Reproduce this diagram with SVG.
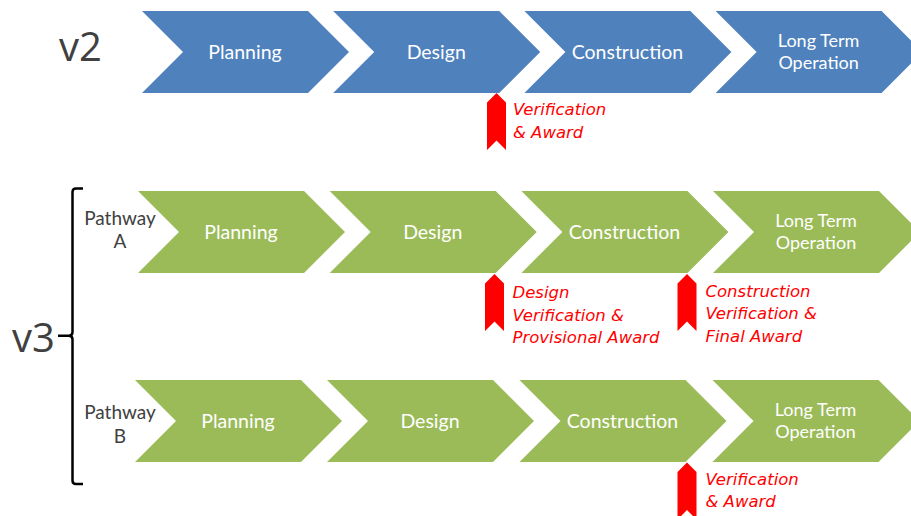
<svg xmlns="http://www.w3.org/2000/svg" width="911" height="516" viewBox="0 0 911 516">
<style>
.blue{fill:#4F81BD}
.green{fill:#9BBB59}
.lbl{font-family:Lato,"Open Sans",sans-serif;font-size:19.5px;fill:#FFFFFF;text-anchor:middle}
.lbl2{font-family:Lato,"Open Sans",sans-serif;font-size:18px;fill:#FFFFFF;text-anchor:middle}
.ver{font-family:"Open Sans","Noto Sans",sans-serif;font-size:40px;fill:#404040}
.pw{font-family:Lato,"Open Sans",sans-serif;font-size:19px;fill:#404040;text-anchor:middle}
.flag{fill:#FF0000}
.red{font-family:"DejaVu Sans","Verdana",sans-serif;font-style:italic;font-size:16.5px;fill:#FF0000}
.brace{fill:none;stroke:#000000;stroke-width:2.5}
</style>
<defs>
<polygon id="chev" points="0,0 166,0 207,41 166,82 0,82 41,41"/>
<polygon id="flagShape" points="0,9.5 9.5,0 19,9.5 19,57 9.5,47.5 0,57"/>
</defs>

<text class="ver" x="59" y="61">v2</text>
<text class="ver" x="12" y="352">v3</text>

<g id="v2-planning"><use href="#chev" class="blue" x="142" y="11"/><text class="lbl" x="245" y="58.5">Planning</text></g>
<g id="v2-design"><use href="#chev" class="blue" x="333.2" y="11"/><text class="lbl" x="436.2" y="58.5">Design</text></g>
<g id="v2-construction"><use href="#chev" class="blue" x="524.4" y="11"/><text class="lbl" x="627.4" y="58.5">Construction</text></g>
<g id="v2-operation"><use href="#chev" class="blue" x="715.6" y="11"/><text class="lbl2" x="818.6" y="47">Long Term</text><text class="lbl2" x="818.6" y="69">Operation</text></g>

<g id="v2-award"><use href="#flagShape" class="flag" x="487" y="93"/><text class="red" x="513" y="115">Verification</text><text class="red" x="513" y="138">&amp; Award</text></g>

<g id="brace"><path class="brace" d="M83,188.5 H76 Q72.5,188.5 72.5,192 V332 Q72.5,335.7 69,335.7 H58 M69,335.7 Q72.5,335.7 72.5,339.5 V480.5 Q72.5,484 76,484 H83"/></g>

<g id="pathway-a-label"><text class="pw" x="120" y="225">Pathway</text><text class="pw" x="120" y="248">A</text></g>
<g id="a-planning"><use href="#chev" class="green" x="138" y="191"/><text class="lbl" x="241" y="238.5">Planning</text></g>
<g id="a-design"><use href="#chev" class="green" x="329.7" y="191"/><text class="lbl" x="432.7" y="238.5">Design</text></g>
<g id="a-construction"><use href="#chev" class="green" x="521.4" y="191"/><text class="lbl" x="624.4" y="238.5">Construction</text></g>
<g id="a-operation"><use href="#chev" class="green" x="713" y="191"/><text class="lbl2" x="816" y="227">Long Term</text><text class="lbl2" x="816" y="249">Operation</text></g>

<g id="a-design-award"><use href="#flagShape" class="flag" x="485" y="274"/><text class="red" x="512.5" y="298.3">Design</text><text class="red" x="512.5" y="320.5">Verification &amp;</text><text class="red" x="512.5" y="342.7">Provisional Award</text></g>
<g id="a-final-award"><use href="#flagShape" class="flag" x="677.5" y="274"/><text class="red" x="705.5" y="296.7">Construction</text><text class="red" x="705.5" y="319.2">Verification &amp;</text><text class="red" x="705.5" y="341.7">Final Award</text></g>

<g id="pathway-b-label"><text class="pw" x="120" y="419">Pathway</text><text class="pw" x="120" y="442.5">B</text></g>
<g id="b-planning"><use href="#chev" class="green" x="135" y="380"/><text class="lbl" x="238" y="427.5">Planning</text></g>
<g id="b-design"><use href="#chev" class="green" x="327" y="380"/><text class="lbl" x="430" y="427.5">Design</text></g>
<g id="b-construction"><use href="#chev" class="green" x="519.5" y="380"/><text class="lbl" x="622.5" y="427.5">Construction</text></g>
<g id="b-operation"><use href="#chev" class="green" x="712.5" y="380"/><text class="lbl2" x="815.5" y="416">Long Term</text><text class="lbl2" x="815.5" y="438">Operation</text></g>

<g id="b-award"><use href="#flagShape" class="flag" x="677.5" y="462.5"/><text class="red" x="705.5" y="485">Verification</text><text class="red" x="705.5" y="506.7">&amp; Award</text></g>
</svg>
